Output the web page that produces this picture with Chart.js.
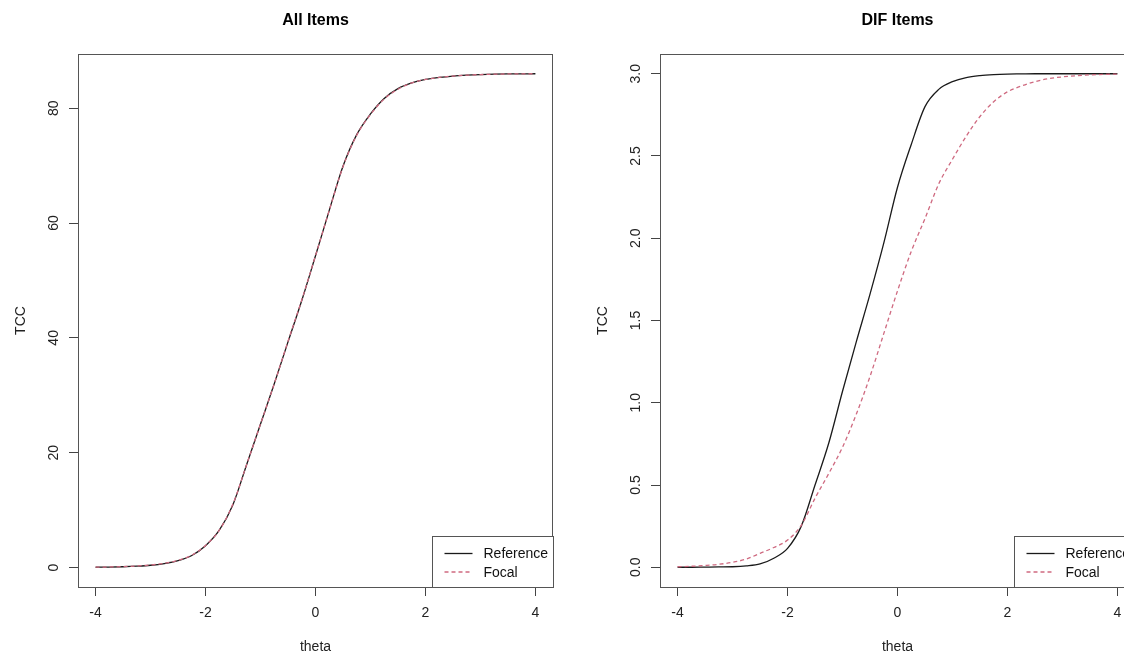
<!DOCTYPE html>
<html>
<head>
<meta charset="utf-8">
<script src="https://cdn.jsdelivr.net/npm/chart.js@4/dist/chart.umd.min.js"></script>
<style>
    html, body { margin: 0; padding: 0; background: #fff; overflow: hidden; }
    body { width: 1124px; height: 654px; position: relative; }
    .panel { position: absolute; top: 0; width: 582px; height: 654px; }
</style>
</head>
<body>
<div class="panel" style="left:0"><canvas id="chartAll" width="582" height="654"></canvas></div>
<div class="panel" style="left:582px"><canvas id="chartDif" width="582" height="654"></canvas></div>
<script>
const theta = [
    -4, -3.75, -3.5, -3.25, -3, -2.75, -2.5, -2.25, -2, -1.75, -1.5, -1.25, -1, -0.75, -0.5, -0.25,
    0, 0.25, 0.5, 0.75, 1, 1.25, 1.5, 1.75, 2, 2.25, 2.5, 2.75, 3, 3.25, 3.5, 3.75, 4
];

const allRef = [
    0.05, 0.08, 0.14, 0.24, 0.4, 0.7, 1.2, 2.1, 3.8, 6.5, 11.0, 18.0, 25.0, 32.0, 39.3, 46.5,
    54.3, 62.2, 69.9, 75.4, 79.0, 81.7, 83.4, 84.4, 85.0, 85.35, 85.6, 85.75, 85.85, 85.92, 85.96, 85.98, 86.0
];
const allFoc = [
    0.06, 0.1, 0.16, 0.27, 0.44, 0.75, 1.25, 2.15, 3.85, 6.5, 11.1, 18.0, 25.0, 32.0, 39.4, 46.6,
    54.3, 62.2, 69.8, 75.3, 78.9, 81.6, 83.3, 84.4, 85.0, 85.35, 85.6, 85.75, 85.85, 85.92, 85.96, 85.98, 86.0
];

const difRef = [
    0, 0, 0.001, 0.002, 0.003, 0.008, 0.02, 0.055, 0.115, 0.25, 0.5, 0.755, 1.07, 1.37, 1.66, 1.97,
    2.31, 2.57, 2.8, 2.905, 2.952, 2.977, 2.989, 2.995, 2.998, 2.999, 3, 3, 3, 3, 3, 3, 3
];
const difFoc = [
    0.003, 0.006, 0.011, 0.018, 0.03, 0.05, 0.085, 0.12, 0.165, 0.255, 0.42, 0.57, 0.73, 0.93, 1.16, 1.42,
    1.68, 1.92, 2.12, 2.33, 2.48, 2.62, 2.74, 2.83, 2.89, 2.925, 2.952, 2.97, 2.981, 2.988, 2.993, 2.996, 2.998
];

const thetaTicks = [-4, -2, 0, 2, 4];
const allTicks = [0, 20, 40, 60, 80];
const difTicks = [0, 0.5, 1, 1.5, 2, 2.5, 3];

const FONT = "'Liberation Sans', Arial, sans-serif";
const REF_COLOR = "#1a1a1a";
const FOC_COLOR = "#cf6a80";

// R style axis range: data range plus 4% each side
function rRange(values) {
    const min = Math.min(...values);
    const max = Math.max(...values);
    const pad = (max - min) * 0.04;
    return { min: min - pad, max: max + pad };
}

const boxPlugin = {
    id: "rbox",
    afterDatasetsDraw(chart) {
        const { ctx, chartArea } = chart;
        ctx.save();
        ctx.strokeStyle = "#555";
        ctx.lineWidth = 1;
        ctx.strokeRect(
            Math.round(chartArea.left) + 0.5,
            Math.round(chartArea.top) + 0.5,
            Math.round(chartArea.right - chartArea.left) - 1,
            Math.round(chartArea.bottom - chartArea.top)
        );
        ctx.restore();
    }
};

const legendPlugin = {
    id: "rlegend",
    afterDraw(chart) {
        const { ctx, chartArea } = chart;
        const w = 121, h = 51;
        const x0 = Math.round(chartArea.right - w) + 0.5;
        const y0 = Math.round(chartArea.bottom - h) + 0.5;
        ctx.save();
        ctx.fillStyle = "#fff";
        ctx.fillRect(x0, y0, w, h);
        ctx.strokeStyle = "#555";
        ctx.lineWidth = 1;
        ctx.strokeRect(x0, y0, w, h);
        ctx.font = "14px " + FONT;
        ctx.textBaseline = "middle";
        chart.data.datasets.forEach((ds, i) => {
            const y = y0 + 17 + i * 18.5;
            ctx.strokeStyle = ds.borderColor;
            ctx.lineWidth = ds.borderWidth;
            ctx.setLineDash(ds.borderDash || []);
            ctx.beginPath();
            ctx.moveTo(x0 + 12, y);
            ctx.lineTo(x0 + 40, y);
            ctx.stroke();
            ctx.setLineDash([]);
            ctx.fillStyle = "#111";
            ctx.fillText(ds.label, x0 + 51, y + 1);
        });
        ctx.restore();
    }
};

function criarPainel(canvasId, titulo, ref, foc, yTicks, casas, yPad) {
    const yr = rRange(ref.concat(foc));
    const xr = rRange(theta);

    return new Chart(document.getElementById(canvasId), {
        type: "line",
        data: {
            datasets: [
                {
                    label: "Reference",
                    data: theta.map((t, i) => ({ x: t, y: ref[i] })),
                    borderColor: REF_COLOR,
                    borderWidth: 1.3,
                    pointRadius: 0,
                    cubicInterpolationMode: "monotone",
                    order: 1
                },
                {
                    label: "Focal",
                    data: theta.map((t, i) => ({ x: t, y: foc[i] })),
                    borderColor: FOC_COLOR,
                    borderWidth: 1.3,
                    borderDash: [4, 3],
                    pointRadius: 0,
                    cubicInterpolationMode: "monotone",
                    order: 0
                }
            ]
        },
        options: {
            responsive: false,
            devicePixelRatio: 1,
            animation: false,
            layout: { padding: { left: 0, right: 29, top: 0, bottom: 0 } },
            plugins: {
                legend: { display: false },
                tooltip: { enabled: false },
                title: {
                    display: true,
                    text: titulo,
                    fullSize: false,
                    color: "#000",
                    font: { family: FONT, size: 16, weight: "bold" },
                    padding: { top: 11, bottom: 23.8 }
                }
            },
            scales: {
                x: {
                    type: "linear",
                    min: xr.min,
                    max: xr.max,
                    afterBuildTicks: s => { s.ticks = thetaTicks.map(v => ({ value: v })); },
                    afterFit: s => { s.height = 67; },
                    border: { display: false },
                    grid: { drawOnChartArea: false, tickLength: 9, color: "#444" },
                    ticks: {
                        padding: 9,
                        color: "#222",
                        font: { family: FONT, size: 14 },
                        maxRotation: 0,
                        callback: v => String(v)
                    },
                    title: {
                        display: true,
                        text: "theta",
                        color: "#222",
                        font: { family: FONT, size: 14, lineHeight: 1 },
                        padding: { top: 0, bottom: 0 }
                    }
                },
                y: {
                    type: "linear",
                    min: yr.min,
                    max: yr.max,
                    afterBuildTicks: s => { s.ticks = yTicks.map(v => ({ value: v })); },
                    afterFit: s => { s.width = 78; },
                    border: { display: false },
                    grid: { drawOnChartArea: false, tickLength: 9, color: "#444" },
                    ticks: {
                        padding: yPad,
                        minRotation: 90,
                        maxRotation: 90,
                        crossAlign: "center",
                        color: "#222",
                        font: { family: FONT, size: 14 },
                        callback: v => v.toFixed(casas)
                    },
                    title: {
                        display: true,
                        text: "TCC",
                        color: "#222",
                        font: { family: FONT, size: 14 },
                        padding: { top: 13, bottom: 0 }
                    }
                }
            }
        },
        plugins: [boxPlugin, legendPlugin]
    });
}

criarPainel("chartAll", "All Items", allRef, allFoc, allTicks, 0, 7);
criarPainel("chartDif", "DIF Items", difRef, difFoc, difTicks, 1, 5);
</script>
</body>
</html>
